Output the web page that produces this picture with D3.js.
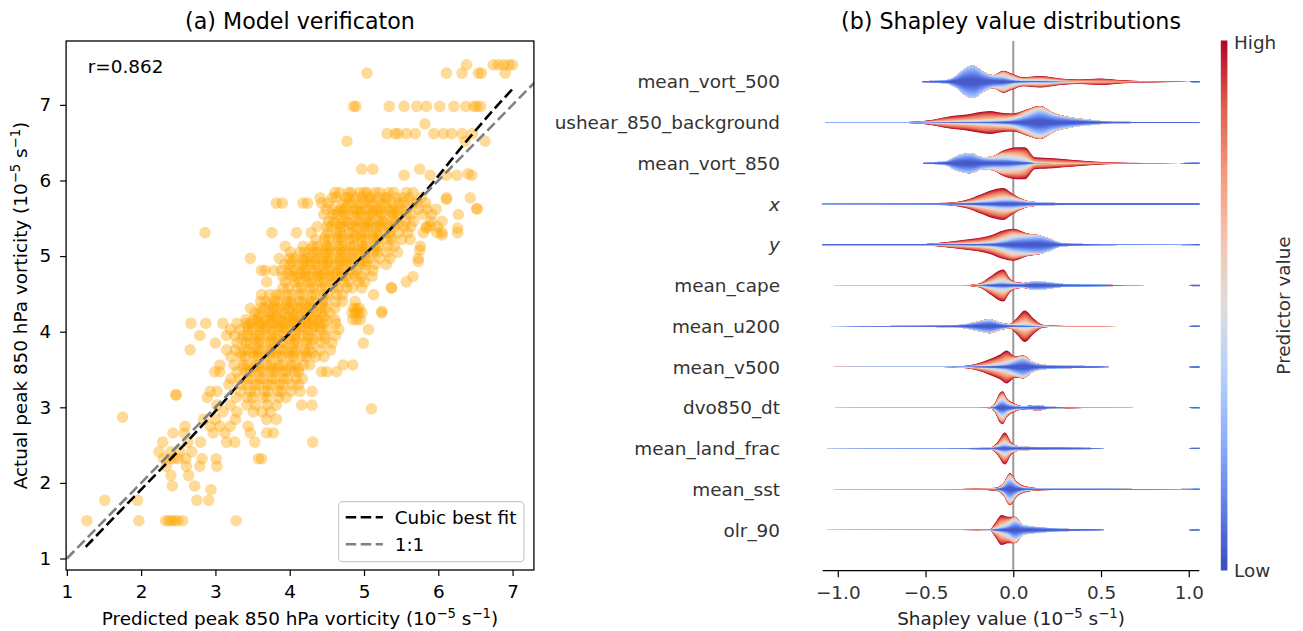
<!DOCTYPE html>
<html><head><meta charset="utf-8">
<script src="https://cdn.jsdelivr.net/npm/d3@7"></script>
<style>
body{margin:0;background:#fff;}
text{font-family:"DejaVu Sans",sans-serif;}
</style></head><body>
<svg id="c" width="1303" height="631"></svg>
<script>
// ---------------- DATA: panel (a) ----------------
const xTicksA = [1,2,3,4,5,6,7];
const yTicksA = [1,2,3,4,5,6,7];
// scatter points grouped by actual value (y) -> predicted values (x)
const scatterRows = [
 [7.53,[6.38,6.74,6.81,6.88,6.95,7.00]],
 [7.42,[5.04,6.11,6.32,6.54,6.58,6.90]],
 [6.98,[4.86,4.89,5.34,5.54,5.71,5.84,6.02,6.21,6.37,6.48,6.52,6.57]],
 [6.75,[5.82]],
 [6.62,[5.31,5.42,5.46,5.57,5.69,5.94,6.07,6.18,6.32,6.46]],
 [6.52,[4.77,6.36,6.63]],
 [6.15,[4.97,5.12,5.75]],
 [6.07,[5.54,5.89,6.11,6.25,6.45]],
 [5.84,[4.61,4.67,4.79,4.83,4.94,5.01,5.04,5.15,5.21,5.33,5.40,5.57,5.66]],
 [5.77,[4.41,4.57,4.63,4.76,4.80,4.89,4.97,5.06,5.09,5.19,5.28,5.31,5.44,5.53,5.61,5.77,6.11,6.43]],
 [5.70,[3.82,3.90,4.18,4.24,4.43,4.52,4.71,4.78,4.83,4.94,4.99,5.09,5.13,5.24,5.29,5.39,5.47,5.53,5.66,5.71,5.83]],
 [5.62,[4.49,4.58,4.69,4.74,4.86,4.90,5.02,5.05,5.17,5.22,5.34,5.39,5.51,5.58,5.73,5.85,5.97,6.52]],
 [5.59,[4.64,4.71,4.88,4.95,5.12,5.19,5.36,5.44]],
 [5.55,[4.46,4.58,4.63,4.75,4.79,4.92,4.96,5.07,5.11,5.23,5.28,5.40,5.45,5.57,5.64,5.79,5.91,6.27]],
 [5.46,[4.52,4.59,4.72,4.77,4.88,4.93,5.04,5.09,5.20,5.25,5.37,5.42,5.56,5.67,5.90,6.05]],
 [5.43,[4.62,4.69,4.83,4.99,5.06,5.21,5.30,5.47]],
 [5.39,[4.37,4.50,4.56,4.69,4.73,4.85,4.90,5.01,5.06,5.17,5.22,5.35,5.41,5.54,5.63,5.84,5.99]],
 [5.31,[2.86,3.76,4.09,4.29,4.51,4.63,4.68,4.80,4.85,4.96,5.01,5.12,5.17,5.29,5.34,5.47,5.59,5.80,5.98,6.05,6.26]],
 [5.26,[4.48,4.64,4.72,4.88,4.97,5.12,5.20,5.36]],
 [5.22,[4.35,4.47,4.53,4.65,4.70,4.81,4.86,4.97,5.02,5.13,5.19,5.30,5.37,5.51,5.62]],
 [5.13,[3.94,4.18,4.31,4.38,4.50,4.55,4.66,4.71,4.82,4.87,4.98,5.03,5.14,5.19,5.32,5.41,5.76]],
 [5.09,[4.28,4.44,4.52,4.68,4.76,4.92,5.00,5.16]],
 [5.05,[4.01,4.14,4.20,4.32,4.37,4.48,4.53,4.64,4.69,4.80,4.85,4.96,5.01,5.12,5.18,5.31,5.45]],
 [4.97,[3.47,3.86,4.00,4.06,4.19,4.24,4.35,4.40,4.51,4.56,4.67,4.72,4.83,4.89,5.01,5.07,5.21,5.35,5.73]],
 [4.93,[4.04,4.20,4.28,4.44,4.52,4.68,4.76,4.92,5.03]],
 [4.89,[3.93,4.00,4.13,4.18,4.29,4.34,4.45,4.50,4.61,4.66,4.77,4.82,4.94,5.01,5.15,5.30]],
 [4.81,[3.62,3.67,3.79,3.89,4.01,4.06,4.17,4.22,4.33,4.38,4.49,4.54,4.65,4.70,4.82,4.89,5.02,5.12]],
 [4.77,[3.98,4.14,4.22,4.38,4.46,4.62,4.70,4.86]],
 [4.73,[3.91,4.04,4.10,4.21,4.26,4.37,4.42,4.53,4.58,4.70,4.76,4.89,4.97,5.11,5.66]],
 [4.66,[3.69,3.94,4.07,4.13,4.24,4.29,4.40,4.45,4.56,4.61,4.73,4.79,4.93,5.01,5.57]],
 [4.58,[3.91,3.98,4.11,4.16,4.27,4.32,4.43,4.48,4.59,4.65,4.77,4.84,4.97,5.37]],
 [4.49,[3.62,3.73,3.82,3.87,3.98,4.03,4.14,4.19,4.30,4.35,4.46,4.51,4.63,4.71,5.13]],
 [4.40,[3.61,3.68,3.80,3.85,3.96,4.01,4.12,4.17,4.28,4.33,4.44,4.49,4.62,4.71,4.88]],
 [4.36,[3.72,3.80,3.96,4.04,4.20,4.28,4.44]],
 [4.31,[3.47,3.61,3.66,3.78,3.83,3.94,3.99,4.10,4.15,4.26,4.31,4.42,4.48,4.61,4.86,4.90,4.94]],
 [4.25,[3.53,3.60,3.72,3.77,3.88,3.93,4.04,4.09,4.20,4.25,4.36,4.42,4.54,4.84,4.88,4.92,4.97,5.24]],
 [4.20,[3.58,3.74,3.82,3.98,4.06,4.22,4.30,4.46]],
 [4.16,[3.41,3.52,3.57,3.68,3.73,3.84,3.89,4.00,4.05,4.16,4.21,4.32,4.37,4.49,4.61,4.85,4.90,4.95]],
 [4.11,[2.67,2.87,3.10,3.29,3.42,3.47,3.58,3.63,3.74,3.79,3.90,3.95,4.06,4.11,4.22,4.27,4.39,4.46,4.62]],
 [4.07,[3.44,3.60,3.68,3.84,3.92,4.08,4.16,4.32,4.40]],
 [4.03,[3.20,3.33,3.45,3.50,3.61,3.66,3.77,3.82,3.93,3.98,4.09,4.14,4.25,4.30,4.42,4.51,4.66,5.06]],
 [3.95,[2.79,3.15,3.26,3.38,3.43,3.54,3.59,3.70,3.75,3.86,3.91,4.02,4.07,4.18,4.24,4.37,4.47,4.62]],
 [3.90,[3.36,3.52,3.60,3.76,3.84,4.00,4.08,4.24,4.32,4.48]],
 [3.85,[3.00,3.29,3.42,3.47,3.58,3.63,3.74,3.79,3.90,3.95,4.06,4.11,4.22,4.29,4.43,4.57,4.99]],
 [3.76,[2.66,3.15,3.27,3.39,3.44,3.55,3.60,3.71,3.76,3.87,3.92,4.03,4.08,4.20,4.27,4.41,4.55]],
 [3.72,[3.34,3.50,3.58,3.74,3.82,3.98,4.06,4.22,4.30]],
 [3.67,[3.21,3.35,3.40,3.52,3.57,3.68,3.73,3.84,3.89,4.00,4.05,4.16,4.22,4.35,4.46]],
 [3.56,[3.06,3.25,3.38,3.43,3.54,3.59,3.70,3.75,3.86,3.91,4.02,4.07,4.19,4.27,4.72,4.85]],
 [3.52,[3.38,3.52,3.60,3.76,3.84,4.00,4.12]],
 [3.47,[2.99,3.06,3.29,3.42,3.47,3.58,3.63,3.74,3.79,3.90,3.95,4.06,4.12,4.43,4.50,4.63]],
 [3.38,[3.21,3.32,3.44,3.49,3.60,3.65,3.76,3.81,3.92,3.97,4.09,4.17]],
 [3.30,[3.18,3.35,3.43,3.54,3.59,3.70,3.75,3.86,3.91,4.03,4.12]],
 [3.21,[2.93,3.02,3.34,3.47,3.53,3.66,3.71,3.84,3.89,4.02,4.14,4.30]],
 [3.13,[2.89,3.28,3.43,3.50,3.64,3.70,3.85,3.95]],
 [3.03,[3.02,3.20,3.42,3.54,3.70,3.82,4.16,4.30]],
 [2.94,[3.10,3.29,3.51,3.63,3.74]],
 [2.84,[2.84,3.00,3.27,3.69,3.82]],
 [2.75,[2.59,2.93,3.06,3.20,3.44]],
 [2.66,[2.43,2.58,2.97,3.13,3.47,3.69,3.78]],
 [2.54,[2.29,2.63,2.80,3.15,3.26,3.53,4.31]],
 [2.41,[2.24,2.40,2.52,2.68]],
 [2.32,[2.30,2.39,2.44,2.50,2.60,2.82,3.01,3.58,3.62]],
 [2.22,[2.34,2.61,2.79,3.02]],
 [2.10,[2.40,2.64]],
 [1.96,[2.42,2.72]],
 [1.91,[2.94]],
 [1.77,[1.51,1.95,2.75,2.91]],
 [1.50,[1.27,1.97,2.33,2.37,2.41,2.45,2.49,2.56,3.28]]
];
const extraPoints = [[1.75,2.87],[2.47,3.17],[5.10,2.98],[2.47,3.16],[6.40,6.09],[6.52,5.63],[6.26,5.37],[6.05,5.28],[5.89,5.40],[6.11,5.75],[5.84,5.37],[5.37,4.58],[5.24,4.27],[5.73,4.93],[5.75,5.08]];
const cubicX = [1.254,1.716,2.389,3.0,3.51,4.05,4.63,5.3,5.89,6.38,6.83,7.0];
const cubicY = [1.155,1.625,2.308,2.95,3.52,4.03,4.66,5.3,5.93,6.52,7.03,7.21];
const oneToOne = [1.0, 7.3];

// ---------------- DATA: panel (b) ----------------
const features = ["mean_vort_500","ushear_850_background","mean_vort_850","x","y","mean_cape","mean_u200","mean_v500","dvo850_dt","mean_land_frac","mean_sst","olr_90"];
const xTicksB = [-1.0,-0.5,0.0,0.5,1.0];
// knots: [shapley value, density of low-valued, mid-valued, high-valued samples]
const kn_vort500 = [[-0.52,0.03,0,0],[-0.38,0.1,0,0],[-0.32,0.4,0,0],[-0.276,0.78,0.02,0],[-0.228,0.95,0.03,0],[-0.171,0.55,0.05,0],[-0.114,0.3,0.08,0.02],[-0.057,0.25,0.3,0.12],[-0.01,0.12,0.25,0.13],[0.057,0.04,0.13,0.1],[0.152,0.03,0.15,0.17],[0.266,0.01,0.07,0.12],[0.38,0,0.02,0.12],[0.494,0,0,0.2],[0.608,0,0,0.1],[0.722,0,0,0.04],[0.9,0,0.005,0.005],[1.0,0,0,0],[1.025,0.04,0,0],[1.06,0.04,0,0]];
const kn_ushear = [[-1.07,0.01,0.004,0.004],[-0.6,0.01,0.008,0.015],[-0.475,0.01,0.03,0.1],[-0.38,0.02,0.08,0.24],[-0.266,0.03,0.12,0.33],[-0.133,0.05,0.2,0.44],[-0.057,0.08,0.22,0.27],[0,0.15,0.2,0.2],[0.076,0.4,0.3,0.09],[0.152,0.7,0.25,0.05],[0.228,0.45,0.12,0.02],[0.342,0.24,0.04,0],[0.456,0.12,0.02,0],[0.57,0.05,0,0],[0.8,0.035,0,0],[1.06,0.035,0,0]];
const kn_vort850 = [[-0.513,0.03,0,0],[-0.39,0.1,0,0],[-0.323,0.42,0.02,0],[-0.247,0.57,0.03,0],[-0.171,0.3,0.06,0],[-0.114,0.25,0.17,0.02],[-0.057,0.25,0.35,0.17],[0.019,0.17,0.4,0.4],[0.066,0.1,0.35,0.52],[0.123,0.01,0.08,0.27],[0.228,0,0.03,0.27],[0.342,0,0.01,0.19],[0.456,0,0,0.1],[0.57,0,0,0.04],[0.75,0,0.004,0.004],[0.95,0,0,0],[1.025,0.04,0,0],[1.06,0.04,0,0]];
const kn_x = [[-1.09,0.015,0,0],[-0.6,0.02,0,0.004],[-0.38,0.03,0.01,0.03],[-0.266,0.05,0.06,0.15],[-0.19,0.1,0.16,0.3],[-0.114,0.16,0.26,0.45],[-0.057,0.22,0.3,0.45],[-0.01,0.22,0.23,0.22],[0.038,0.17,0.12,0.07],[0.095,0.1,0.04,0.02],[0.19,0.08,0,0],[0.3,0.06,0,0],[0.9,0.05,0,0],[1.06,0.04,0,0]];
const kn_y = [[-1.09,0.035,0,0],[-0.5,0.035,0.005,0.01],[-0.38,0.03,0.03,0.1],[-0.266,0.04,0.07,0.2],[-0.133,0.08,0.16,0.32],[-0.057,0.2,0.3,0.37],[0,0.35,0.35,0.27],[0.076,0.45,0.18,0.07],[0.152,0.5,0.05,0.01],[0.209,0.33,0.03,0],[0.275,0.1,0,0],[0.4,0.05,0,0],[0.6,0.015,0,0],[0.95,0.01,0,0],[1.06,0.04,0,0]];
const kn_cape = [[-1.06,0.005,0,0],[-0.3,0.007,0,0],[-0.247,0.01,0.01,0.01],[-0.19,0.02,0.04,0.07],[-0.133,0.08,0.17,0.28],[-0.057,0.15,0.35,0.47],[-0.019,0.12,0.15,0.15],[0.02,0.1,0.05,0.03],[0.06,0.12,0.02,0.01],[0.12,0.24,0.02,0],[0.19,0.2,0.01,0],[0.3,0.08,0,0],[0.5,0.05,0,0],[0.65,0.01,0,0],[0.75,0,0,0],[1.0,0,0,0],[1.025,0.04,0,0],[1.06,0.04,0,0]];
const kn_u200 = [[-1.06,0.005,0,0],[-0.72,0.02,0,0],[-0.36,0.05,0.01,0],[-0.266,0.12,0.02,0],[-0.19,0.28,0.04,0],[-0.133,0.36,0.06,0],[-0.076,0.18,0.04,0.01],[-0.019,0.06,0.05,0.03],[0.019,0.04,0.14,0.3],[0.066,0.03,0.3,0.62],[0.114,0.02,0.12,0.34],[0.171,0,0.02,0.06],[0.3,0.003,0.003,0.003],[0.6,0.004,0,0],[0.7,0,0,0],[1.0,0,0,0],[1.025,0.04,0,0],[1.06,0.04,0,0]];
const kn_v500 = [[-1.06,0.005,0,0],[-0.4,0.007,0,0],[-0.266,0.01,0.02,0.05],[-0.209,0.02,0.05,0.13],[-0.133,0.05,0.13,0.3],[-0.076,0.1,0.22,0.43],[-0.038,0.15,0.3,0.55],[0.01,0.35,0.2,0.1],[0.057,0.5,0.15,0.04],[0.114,0.24,0.03,0.01],[0.19,0.11,0.01,0],[0.342,0.07,0,0],[0.494,0.03,0,0],[0.55,0,0,0],[1.0,0,0,0],[1.025,0.04,0,0],[1.06,0.04,0,0]];
const kn_dvo = [[-1.06,0.005,0,0],[-0.2,0.007,0,0],[-0.133,0.01,0.01,0.01],[-0.105,0.07,0.1,0.1],[-0.076,0.35,0.3,0.25],[-0.06,0.4,0.35,0.25],[-0.038,0.25,0.2,0.15],[0.01,0.1,0.06,0.08],[0.057,0.06,0.01,0.02],[0.142,0.14,0.01,0.01],[0.2,0.05,0.005,0.005],[0.4,0.008,0,0.004],[0.7,0.005,0,0],[1.0,0,0,0],[1.025,0.04,0,0],[1.06,0.04,0,0]];
const kn_land = [[-1.06,0.006,0,0],[-0.4,0.01,0,0],[-0.133,0.03,0.01,0.005],[-0.095,0.08,0.1,0.14],[-0.048,0.2,0.32,0.45],[-0.01,0.12,0.12,0.12],[0.038,0.1,0.02,0],[0.152,0.08,0,0],[0.342,0.06,0,0],[0.484,0.02,0,0],[0.52,0,0,0],[1.0,0,0,0],[1.025,0.04,0,0],[1.06,0.04,0,0]];
const kn_sst = [[-1.06,0.005,0,0],[-0.4,0.007,0,0],[-0.2,0.01,0.005,0.02],[-0.1,0.02,0.02,0.05],[-0.057,0.18,0.1,0.08],[-0.019,0.55,0.3,0.12],[0.019,0.25,0.12,0.1],[0.076,0.05,0.03,0.08],[0.152,0.03,0.01,0.02],[0.3,0.03,0,0],[0.7,0.02,0,0],[0.95,0.008,0,0],[1.06,0.04,0,0]];
const kn_olr = [[-1.06,0.005,0,0],[-0.3,0.007,0,0],[-0.133,0.01,0.01,0.02],[-0.105,0.04,0.12,0.24],[-0.067,0.12,0.27,0.52],[-0.029,0.25,0.3,0.25],[0.01,0.5,0.25,0.05],[0.057,0.27,0.03,0],[0.114,0.2,0,0],[0.266,0.08,0,0],[0.494,0.02,0,0],[0.52,0,0,0],[1.0,0,0,0],[1.025,0.04,0,0],[1.06,0.04,0,0]];
const violinKnots = [kn_vort500,kn_ushear,kn_vort850,kn_x,kn_y,kn_cape,kn_u200,kn_v500,kn_dvo,kn_land,kn_sst,kn_olr];
// coolwarm colormap stops
const coolwarm = ["#3b4cc0","#6282ea","#8db0fe","#b8d0f9","#dddddd","#f5c4ad","#f49a7b","#de604d","#b40426"];

// ---------------- DRAW ----------------
const svg = d3.select('#c');
const FS = 18.4, TFS = 22.2;
const defs = svg.append('defs');

// ===== Panel (a) =====
const xA = d3.scaleLinear().domain([0.99,7.287]).range([66.1,533.9]);
const yA = d3.scaleLinear().domain([0.848,7.845]).range([570,41]);
defs.append('clipPath').attr('id','clipA').append('rect')
  .attr('x',xA.range()[0]).attr('y',yA.range()[1])
  .attr('width',xA.range()[1]-xA.range()[0]).attr('height',yA.range()[0]-yA.range()[1]);

const pts = [];
scatterRows.forEach(([y,xs])=>xs.forEach(x=>pts.push([x,y])));
extraPoints.forEach(p=>pts.push(p));
const gA = svg.append('g');
const plotA = gA.append('g').attr('clip-path','url(#clipA)');
plotA.selectAll('circle').data(pts).enter().append('circle')
  .attr('cx',d=>xA(d[0])).attr('cy',d=>yA(d[1])).attr('r',5.8)
  .attr('fill','#ffa500').attr('fill-opacity',0.4);

const line = d3.line().x(d=>xA(d[0])).y(d=>yA(d[1]));
const cubicPts = cubicX.map((x,i)=>[x,cubicY[i]]);
plotA.append('path').attr('d', d3.line().x(d=>xA(d[0])).y(d=>yA(d[1])).curve(d3.curveMonotoneX)(cubicPts))
  .attr('fill','none').attr('stroke','#000').attr('stroke-width',2.6).attr('stroke-dasharray','10.5,4.5');
plotA.append('path').attr('d', line(oneToOne.map(v=>[v,v])))
  .attr('fill','none').attr('stroke','#808080').attr('stroke-width',2.6).attr('stroke-dasharray','10.5,4.5');

// frame
gA.append('rect').attr('x',xA.range()[0]).attr('y',yA.range()[1])
  .attr('width',xA.range()[1]-xA.range()[0]).attr('height',yA.range()[0]-yA.range()[1])
  .attr('fill','none').attr('stroke','#000').attr('stroke-width',1.3);

function styleAxis(g, color){
  g.select('.domain').remove();
  g.selectAll('.tick line').attr('stroke','#000').attr('stroke-width',1.2);
  g.selectAll('.tick text').attr('font-size',FS).attr('font-family','DejaVu Sans').attr('fill',color);
}
const axA_x = gA.append('g').attr('transform',`translate(0,${yA.range()[0]})`)
  .call(d3.axisBottom(xA).tickValues(xTicksA).tickSize(6).tickPadding(8.5).tickFormat(d3.format('d')));
styleAxis(axA_x,'#000');
const axA_y = gA.append('g').attr('transform',`translate(${xA.range()[0]},0)`)
  .call(d3.axisLeft(yA).tickValues(yTicksA).tickSize(6).tickPadding(9).tickFormat(d3.format('d')));
styleAxis(axA_y,'#000');

function unitLabel(t, pre){
  t.append('tspan').text(pre + ' (10');
  t.append('tspan').attr('dy',-7).attr('font-size',FS*0.72).text('−5');
  t.append('tspan').attr('dy',7).text(' s');
  t.append('tspan').attr('dy',-7).attr('font-size',FS*0.72).text('−1');
  t.append('tspan').attr('dy',7).text(')');
}
unitLabel(gA.append('text').attr('x',300).attr('y',625).attr('text-anchor','middle').attr('font-size',FS), 'Predicted peak 850 hPa vorticity');
unitLabel(gA.append('text').attr('transform','translate(27,305.5) rotate(-90)').attr('text-anchor','middle').attr('font-size',FS), 'Actual peak 850 hPa vorticity');
gA.append('text').attr('x',300).attr('y',28.8).attr('text-anchor','middle').attr('font-size',TFS).text('(a) Model verificaton');
gA.append('text').attr('x',87.8).attr('y',72.7).attr('font-size',FS).text('r=0.862');

// legend
const lg = gA.append('g');
lg.append('rect').attr('x',338.6).attr('y',501.7).attr('width',185.3).attr('height',60).attr('rx',4)
  .attr('fill','#fff').attr('fill-opacity',0.8).attr('stroke','#cccccc').attr('stroke-width',1.2);
[['Cubic best fit','#000',517.3],['1:1','#808080',544.3]].forEach(([lab,col,yy])=>{
  lg.append('line').attr('x1',345.7).attr('x2',382.9).attr('y1',yy).attr('y2',yy)
    .attr('stroke',col).attr('stroke-width',2.6).attr('stroke-dasharray','10.5,4.5');
  lg.append('text').attr('x',394.7).attr('y',yy+6.7).attr('font-size',FS).text(lab);
});

// ===== Panel (b) =====
const xB = d3.scaleLinear().domain([-1.086,1.06]).range([822.7,1199.3]);
const yB = d3.scalePoint().domain(features).range([41,570.7]).padding(1);
const wS = d3.scaleLinear().domain([0,1]).range([0,16.5]);
const cw = d3.piecewise(d3.interpolateRgb, coolwarm);
const gB = svg.append('g');
// zero line
gB.append('line').attr('x1',xB(0)).attr('x2',xB(0)).attr('y1',41).attr('y2',570.7)
  .attr('stroke','#999999').attr('stroke-width',2);
const NL = 30;
features.forEach((f,i)=>{
  const kn = violinKnots[i];
  const yc = yB(f);
  for(let k=NL;k>=1;k--){
    const t = k/NL;
    const w = d => { const a=d[1], b=d[2], c=d[3];
      if(t<=1/3) return a*Math.pow(3*t,0.6);
      if(t<=2/3) return a + b*(3*t-1);
      return a + b + c*(3*t-2); };
    const area = d3.area().x(d=>xB(d[0])).y0(d=>yc - wS(w(d))).y1(d=>yc + wS(w(d))).curve(d3.curveMonotoneX);
    gB.append('path').attr('d',area(kn)).attr('fill',cw(t));
  }
});
// feature labels
gB.selectAll('text.feat').data(features).enter().append('text').attr('class','feat')
  .attr('x',780).attr('y',d=>yB(d)).attr('dy','0.36em').attr('text-anchor','end')
  .attr('font-size',FS).attr('fill','#333333')
  .attr('font-style',d=>(d==='x'||d==='y')?'italic':'normal')
  .text(d=>d);
// bottom axis
gB.append('line').attr('x1',xB.range()[0]).attr('x2',xB.range()[1]).attr('y1',570.7).attr('y2',570.7)
  .attr('stroke','#000').attr('stroke-width',1.3);
const axB = gB.append('g').attr('transform','translate(0,570.7)')
  .call(d3.axisBottom(xB).tickValues(xTicksB).tickSize(6.5).tickPadding(8.5)
  .tickFormat(d=>(d<0?'−':'')+Math.abs(d).toFixed(1)));
styleAxis(axB,'#333333');
unitLabel(gB.append('text').attr('x',1011).attr('y',625).attr('text-anchor','middle').attr('font-size',FS).attr('fill','#222'), 'Shapley value');
gB.append('text').attr('x',1011).attr('y',28.8).attr('text-anchor','middle').attr('font-size',TFS).text('(b) Shapley value distributions');

// colorbar
const grad = defs.append('linearGradient').attr('id','cwgrad').attr('x1',0).attr('y1',1).attr('x2',0).attr('y2',0);
coolwarm.forEach((c,i)=>grad.append('stop').attr('offset',i/(coolwarm.length-1)).attr('stop-color',c));
gB.append('rect').attr('x',1220.8).attr('y',40.5).attr('width',6.6).attr('height',530).attr('fill','url(#cwgrad)');
gB.append('text').attr('x',1234).attr('y',42).attr('dy','0.36em').attr('font-size',FS).attr('fill','#333333').text('High');
gB.append('text').attr('x',1234).attr('y',570).attr('dy','0.36em').attr('font-size',FS).attr('fill','#333333').text('Low');
gB.append('text').attr('transform','translate(1289.5,305.5) rotate(-90)').attr('text-anchor','middle')
  .attr('font-size',FS).attr('fill','#333333').text('Predictor value');
</script>
</body></html>
